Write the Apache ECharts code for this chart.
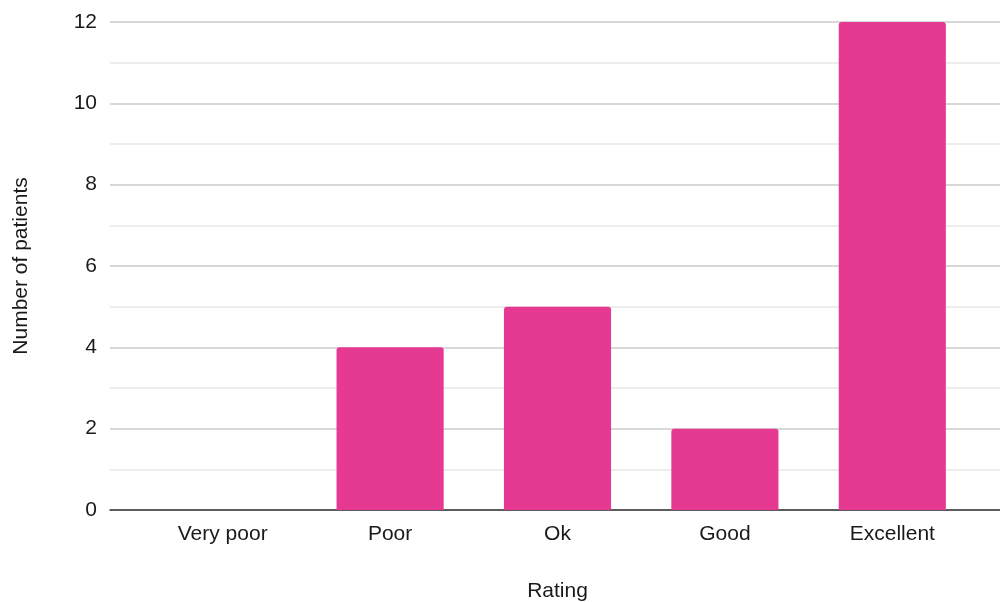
<!DOCTYPE html>
<html>
<head>
<meta charset="utf-8">
<script src="https://cdn.jsdelivr.net/npm/echarts@6/dist/echarts.min.js"></script>
<style>
  html, body { margin: 0; padding: 0; background: #fff; }
  #chart { width: 1000px; height: 602px; }
</style>
</head>
<body>
<div id="chart"></div>
<script>
// Patient ratings
const categories = ['Very poor', 'Poor', 'Ok', 'Good', 'Excellent'];
const patients = [0, 4, 5, 2, 12];
const xTitle = 'Rating';
const yTitle = 'Number of patients';
const yMin = 0;
const yMax = 12;
const yStep = 2;

const chart = echarts.init(document.getElementById('chart'));
const font = 'Liberation Sans, Arial, sans-serif';
const textColor = '#1a1a1a';

chart.setOption({
  animation: false,
  grid: [
    // full-width frame: gridlines, value labels and baseline
    { left: 110, right: 0, top: 22, bottom: 92, containLabel: false, outerBoundsMode: 'none' },
    // inset plotting band for the bars
    { left: 139, right: 24, top: 22, bottom: 92, containLabel: false, outerBoundsMode: 'none' }
  ],
  xAxis: [
    {
      gridIndex: 0,
      type: 'value',
      min: 0,
      max: 1,
      axisLine: { show: true, onZero: false, lineStyle: { color: '#333', width: 1.5 } },
      axisTick: { show: false },
      axisLabel: { show: false },
      splitLine: { show: false }
    },
    {
      gridIndex: 1,
      type: 'category',
      data: categories,
      name: xTitle,
      nameLocation: 'middle',
      nameGap: 71,
      nameTextStyle: { fontFamily: font, fontSize: 21, color: textColor },
      axisLine: { show: false },
      axisTick: { show: false },
      axisLabel: { fontFamily: font, fontSize: 21, color: textColor, margin: 14 }
    }
  ],
  yAxis: [
    {
      gridIndex: 0,
      type: 'value',
      min: yMin,
      max: yMax,
      interval: yStep,
      name: yTitle,
      nameLocation: 'middle',
      nameGap: 78,
      nameTextStyle: { fontFamily: font, fontSize: 21, color: textColor },
      axisLine: { show: false },
      axisTick: { show: false },
      axisLabel: { fontFamily: font, fontSize: 21, color: textColor, margin: 13, padding: [4, 0, 0, 0] },
      splitLine: { lineStyle: { color: '#cbcbcb', width: 1.5 } },
      minorTick: { show: false, splitNumber: 2 },
      minorSplitLine: { show: true, lineStyle: { color: '#e8e8e8', width: 1.5 } }
    },
    {
      gridIndex: 1,
      type: 'value',
      min: yMin,
      max: yMax,
      interval: yStep,
      show: false,
      splitLine: { show: false }
    }
  ],
  series: [{
    type: 'bar',
    xAxisIndex: 1,
    yAxisIndex: 1,
    data: patients,
    barWidth: '64%',
    itemStyle: { color: '#E63A92', borderRadius: [3, 3, 0, 0] }
  }]
});
</script>
</body>
</html>
